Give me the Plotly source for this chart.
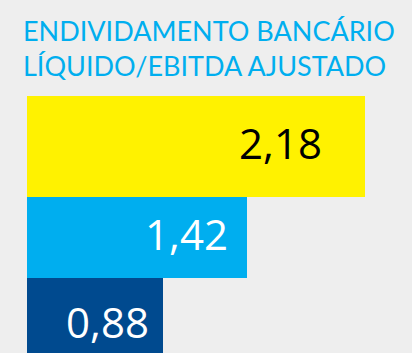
import plotly.graph_objects as go

# Data
categories = ["Barra 1", "Barra 2", "Barra 3"]
values = [2.18, 1.42, 0.88]
value_labels = ["2,18", "1,42", "0,88"]
title_lines = ["ENDIVIDAMENTO BANCÁRIO", "LÍQUIDO/EBITDA AJUSTADO"]

# Styles
bar_colors = ["#FFF200", "#00AEEF", "#004A8F"]
label_colors = ["#000000", "#FFFFFF", "#FFFFFF"]
bar_widths = [1.188, 0.953, 1.1]
bar_offsets = [-0.594, -0.406, -0.453]
label_xshift = [-41, -17, -12]
label_yshift = [4, 4, 3]
BG = "#EEEEEE"
FONT = "Open Sans"
TITLE_FONT = "Lato"
LEFT, TOP, PLOT_W, PLOT_H = 27, 96, 385, 257

fig = go.Figure(
    go.Bar(
        x=values,
        y=categories,
        orientation="h",
        marker=dict(color=bar_colors, line=dict(width=0)),
        width=bar_widths,
        offset=bar_offsets,
        hoverinfo="skip",
    )
)

for idx, (v, txt, col, xs, ys, off, w) in enumerate(zip(values, value_labels,
                                                      label_colors, label_xshift, label_yshift,
                                                      bar_offsets, bar_widths)):
    fig.add_annotation(
        x=v, y=idx + off + w / 2, xref="x", yref="y",
        text=txt, showarrow=False,
        xanchor="right", yanchor="middle",
        xshift=xs, yshift=ys,
        font=dict(family=FONT, size=42, color=col),
    )

# Two-line heading above the bars
fig.add_annotation(
    x=(21 - LEFT) / PLOT_W, xref="paper", xanchor="left",
    y=1 + (TOP - 12) / PLOT_H, yref="paper", yanchor="top",
    text="<br>".join(title_lines), showarrow=False, align="left",
    font=dict(family=TITLE_FONT, size=27, color="#00AEEF"),
)

fig.update_layout(
    width=412, height=353,
    margin=dict(l=LEFT, r=0, t=TOP, b=0),
    paper_bgcolor=BG, plot_bgcolor=BG,
    showlegend=False,
    bargap=0,
    xaxis=dict(range=[0, PLOT_W / 155], visible=False, fixedrange=True),
    yaxis=dict(
        categoryorder="array", categoryarray=categories,
        range=[-0.594 + PLOT_H / 85, -0.594],
        visible=False, fixedrange=True,
    ),
)

fig.write_html("out.html")
